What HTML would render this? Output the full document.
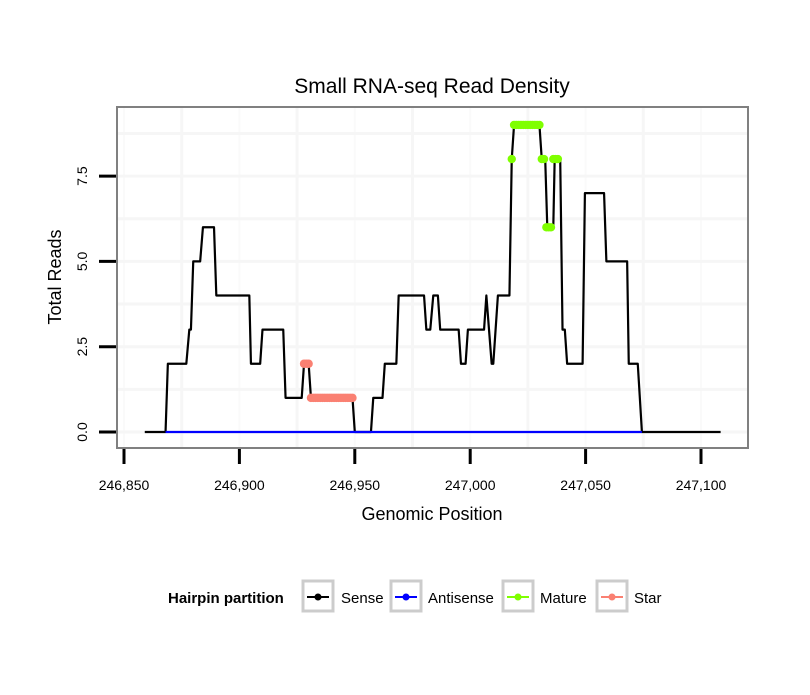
<!DOCTYPE html>
<html><head><meta charset="utf-8"><style>
body{margin:0;background:#fff;}
svg text{font-family:"Liberation Sans",sans-serif;}
</style></head><body>
<svg width="810" height="690" viewBox="0 0 810 690" xmlns="http://www.w3.org/2000/svg">
<rect width="810" height="690" fill="#fff"/>
<text x="432" y="93" font-size="21" text-anchor="middle">Small RNA-seq Read Density</text>
<g id="grid"></g>
<g id="series"></g>
<rect x="117" y="107" width="631" height="341" fill="none" stroke="#808080" stroke-width="2"/>
<g id="axes"></g>
<text x="432" y="520" font-size="18" text-anchor="middle">Genomic Position</text>
<text transform="translate(61,277) rotate(-90)" font-size="18" text-anchor="middle">Total Reads</text>
<g>
<text x="168" y="603" font-size="15" font-weight="bold">Hairpin partition</text>
<g><rect x="303" y="581" width="30" height="30" fill="#fff" stroke="#ccc" stroke-width="3"/><line x1="307" y1="597" x2="329" y2="597" stroke="#000" stroke-width="2"/><circle cx="318" cy="597" r="3.5" fill="#000"/><text x="341" y="603" font-size="15">Sense</text></g>
<g><rect x="391" y="581" width="30" height="30" fill="#fff" stroke="#ccc" stroke-width="3"/><line x1="395" y1="597" x2="417" y2="597" stroke="#0000ff" stroke-width="2"/><circle cx="406" cy="597" r="3.5" fill="#0000ff"/><text x="428" y="603" font-size="15">Antisense</text></g>
<g><rect x="503" y="581" width="30" height="30" fill="#fff" stroke="#ccc" stroke-width="3"/><line x1="507" y1="597" x2="529" y2="597" stroke="#7fff00" stroke-width="2"/><circle cx="518" cy="597" r="3.5" fill="#7fff00"/><text x="540" y="603" font-size="15">Mature</text></g>
<g><rect x="597" y="581" width="30" height="30" fill="#fff" stroke="#ccc" stroke-width="3"/><line x1="601" y1="597" x2="623" y2="597" stroke="#fa8072" stroke-width="2"/><circle cx="612" cy="597" r="3.5" fill="#fa8072"/><text x="634" y="603" font-size="15">Star</text></g>
</g>
</svg>
<script>
const xTicks=[246850,246900,246950,247000,247050,247100];
const xTickLabels=["246,850","246,900","246,950","247,000","247,050","247,100"];
const yTicks=[0,2.5,5,7.5];
const yTickLabels=["0.0","2.5","5.0","7.5"];
const senseX=[246859,246868,246869,246877,246878.3,246879,246880,246883,246884.2,246889,246890,246904.3,246905,246909,246910,246919,246920,246927,246928,246930,246931,246949,246950,246957,246958,246962,246963,246968,246969,246980,246981,246982.7,246984,246986,246987,246995,246996,246998,246999,247006,247007,247009.3,247010,247012,247017,247018,247019,247030,247031,247032.5,247033.4,247036,247036.6,247039,247040,247041,247042,247048.7,247049.7,247058,247059,247068,247068.7,247072.6,247074.4,247108.5];
const senseY=[0,0,2,2,3,3,5,5,6,6,4,4,2,2,3,3,1,1,2,2,1,1,0,0,1,1,2,2,4,4,3,3,4,4,3,3,2,2,3,3,4,2,2,4,4,8,9,9,8,8,6,6,8,8,3,3,2,2,7,7,5,5,2,2,0,0];
const antisenseX=[246868,247074.4];
const antisenseY=[0,0];
const matureX=[247018,247019,247020,247021,247022,247023,247024,247025,247026,247027,247028,247029,247030,247031,247032,247033,247034,247035,247036,247037,247038];
const matureY=[8,9,9,9,9,9,9,9,9,9,9,9,9,8,8,6,6,6,8,8,8];
const starX=[246928,246929,246930,246931,246932,246933,246934,246935,246936,246937,246938,246939,246940,246941,246942,246943,246944,246945,246946,246947,246948,246949];
const starY=[2,2,2,1,1,1,1,1,1,1,1,1,1,1,1,1,1,1,1,1,1,1];
const gridX=[246875,246925,246975,247025,247075];
const gridY=[1.25,3.75,6.25,8.75];

const NS="http://www.w3.org/2000/svg";
const sx=v=>124+(v-246850)*(577/250);
const sy=v=>432-v*(85.3/2.5);
function mk(tag,attrs,parent){const e=document.createElementNS(NS,tag);for(const k in attrs)e.setAttribute(k,attrs[k]);parent.appendChild(e);return e;}
const grid=document.getElementById('grid'),series=document.getElementById('series'),axes=document.getElementById('axes');
gridX.forEach(g=>{const l=mk('line',{x1:sx(g),x2:sx(g),y1:108,y2:447,stroke:'#f6f6f6','stroke-width':3},grid);});
xTicks.forEach(g=>{if(sx(g)>118&&sx(g)<747){const l=mk('line',{x1:sx(g),x2:sx(g),y1:108,y2:447,stroke:'#fafafa','stroke-width':2},grid);}});
gridY.concat(yTicks).forEach(g=>{const l=mk('line',{x1:118,x2:747,y1:sy(g),y2:sy(g),stroke:'#f6f6f6','stroke-width':3},grid);});
function line(xs,ys,color,name){const p=mk('polyline',{points:xs.map((x,i)=>sx(x)+','+sy(ys[i])).join(' '),fill:'none',stroke:color,'stroke-width':2.2,'stroke-linejoin':'round'},series);}
line(senseX,senseY,'#000','sense-line');
line(antisenseX,antisenseY,'#0000ff','antisense-line');
function pts(xs,ys,color,name){xs.forEach((x,i)=>{const c=mk('circle',{cx:sx(x),cy:sy(ys[i]),r:4.2,fill:color},series);});}
pts(starX,starY,'#fa8072','star-point');
pts(matureX,matureY,'#7fff00','mature-point');
xTicks.forEach((t,i)=>{const l=mk('line',{x1:sx(t),x2:sx(t),y1:449,y2:464,stroke:'#000','stroke-width':3},axes);
const tx=mk('text',{x:sx(t),y:490,'font-size':14,'text-anchor':'middle'},axes);tx.textContent=xTickLabels[i];});
yTicks.forEach((t,i)=>{const l=mk('line',{x1:99,x2:116,y1:sy(t),y2:sy(t),stroke:'#000','stroke-width':3},axes);
const tx=mk('text',{transform:`translate(87,${sy(t)}) rotate(-90)`,'font-size':14,'text-anchor':'middle'},axes);tx.textContent=yTickLabels[i];});
</script>
</body></html>
